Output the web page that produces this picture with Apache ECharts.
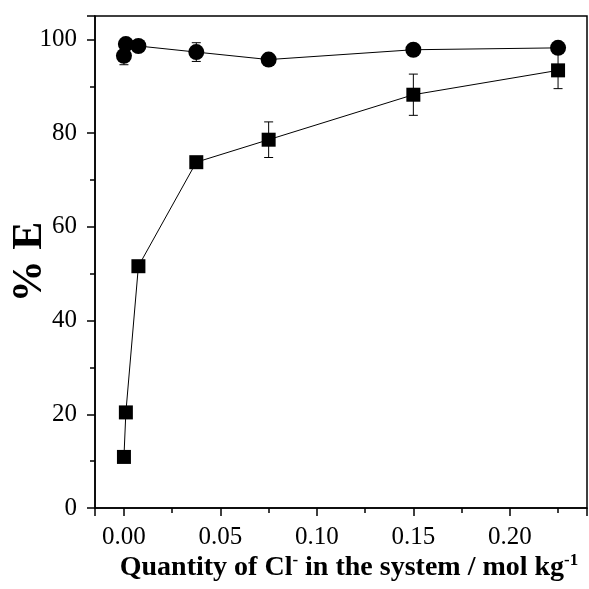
<!DOCTYPE html>
<html>
<head>
<meta charset="utf-8">
<script src="https://cdn.jsdelivr.net/npm/echarts@6/dist/echarts.min.js"></script>
<style>
  html, body { margin: 0; padding: 0; background: #fff; }
  #main { width: 589px; height: 589px; }
</style>
</head>
<body>
<div id="main"></div>
<script>
// Cl- quantity (mol/kg)
var xValues = [0, 0.001, 0.0075, 0.0375, 0.075, 0.15, 0.225];
// squares
var squareE = [10.9, 20.4, 51.6, 73.8, 78.6, 88.2, 93.4];
var squareErr = [0.5, 0.5, 0.8, 1.0, 3.8, 4.4, 3.9];
// circles
var circleE = [96.5, 99.0, 98.6, 97.3, 95.7, 97.8, 98.2];
var circleErr = [1.9, 0.5, 0.8, 2.0, 0.5, 0.5, 0.5];

var fontFam = '"Liberation Serif", "Times New Roman", serif';

function pairs(ys) {
  return xValues.map(function (x, i) { return [x, ys[i]]; });
}
function errData(ys, errs) {
  return xValues.map(function (x, i) { return [x, ys[i] - errs[i], ys[i] + errs[i]]; });
}

function renderErr(params, api) {
  var lo = api.coord([api.value(0), api.value(1)]);
  var hi = api.coord([api.value(0), api.value(2)]);
  var w = 4.5;
  var st = { stroke: '#000', lineWidth: 1 };
  return {
    type: 'group',
    children: [
      { type: 'line', shape: { x1: lo[0], y1: lo[1], x2: hi[0], y2: hi[1] }, style: st },
      { type: 'line', shape: { x1: lo[0] - w, y1: lo[1], x2: lo[0] + w, y2: lo[1] }, style: st },
      { type: 'line', shape: { x1: hi[0] - w, y1: hi[1], x2: hi[0] + w, y2: hi[1] }, style: st }
    ]
  };
}

var chart = echarts.init(document.getElementById('main'));

var option = {
  animation: false,
  grid: {
    left: 95, right: 2, top: 16, bottom: 81,
    outerBoundsMode: 'none',
    containLabel: false,
    show: true, borderColor: '#000', borderWidth: 1.5, backgroundColor: '#fff'
  },
  xAxis: {
    type: 'value',
    min: -0.015,
    max: 0.24,
    splitNumber: 5,
    name: '{a|Quantity of Cl}{s|-}{a| in the system / mol kg}{s|-1}',
    nameLocation: 'middle',
    nameGap: 44,
    nameMoveOverlap: false,
    nameTextStyle: {
      padding: [0, 0, 0, 16],
      rich: {
        a: { fontFamily: fontFam, fontWeight: 'bold', fontSize: 28, color: '#000', lineHeight: 32 },
        s: { fontFamily: fontFam, fontWeight: 'bold', fontSize: 17, color: '#000', verticalAlign: 'top', lineHeight: 32, padding: [0, 0, 12, 0] }
      }
    },
    axisLine: { onZero: false, lineStyle: { color: '#000', width: 1.5 } },
    axisTick: { inside: false, length: 8, lineStyle: { color: '#000', width: 1.5 } },
    minorTick: { show: true, splitNumber: 2, length: 5, lineStyle: { color: '#000', width: 1.5 } },
    axisLabel: {
      fontFamily: fontFam, fontSize: 25, color: '#000', margin: 17,
      showMinLabel: false, showMaxLabel: false,
      formatter: function (v) { return v.toFixed(2); }
    },
    splitLine: { show: false }
  },
  yAxis: {
    type: 'value',
    min: 0,
    max: 105,
    interval: 20,
    name: '% E',
    nameLocation: 'middle',
    nameGap: 44,
    nameMoveOverlap: false,
    nameTextStyle: { fontFamily: fontFam, fontWeight: 'bold', fontSize: 42, color: '#000' },
    axisLine: { onZero: false, lineStyle: { color: '#000', width: 1.5 } },
    axisTick: { inside: false, length: 8, lineStyle: { color: '#000', width: 1.5 } },
    minorTick: { show: true, splitNumber: 2, length: 5, lineStyle: { color: '#000', width: 1.5 } },
    axisLabel: {
      fontFamily: fontFam, fontSize: 25, color: '#000', margin: 18,
      showMaxLabel: false
    },
    splitLine: { show: false }
  },
  series: [
    {
      type: 'custom',
      renderItem: renderErr,
      data: errData(squareE, squareErr),
      encode: { x: 0, y: [1, 2] },
      z: 1
    },
    {
      type: 'custom',
      renderItem: renderErr,
      data: errData(circleE, circleErr),
      encode: { x: 0, y: [1, 2] },
      z: 1
    },
    {
      type: 'line',
      data: pairs(squareE),
      symbol: 'rect',
      symbolSize: 14,
      lineStyle: { color: '#000', width: 1 },
      itemStyle: { color: '#000' },
      z: 3
    },
    {
      type: 'line',
      data: pairs(circleE),
      symbol: 'circle',
      symbolSize: 16,
      lineStyle: { color: '#000', width: 1 },
      itemStyle: { color: '#000' },
      z: 3
    }
  ]
};

chart.setOption(option);
</script>
</body>
</html>
